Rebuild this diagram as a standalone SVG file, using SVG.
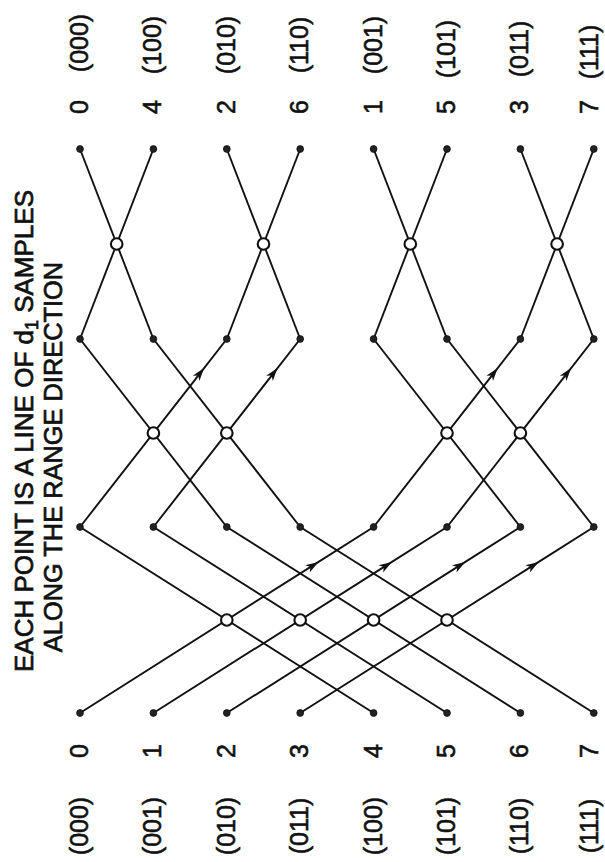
<svg xmlns="http://www.w3.org/2000/svg" width="605" height="862" viewBox="0 0 605 862">
<style>
.bg{fill:#fff}
.ln{stroke:#111;stroke-width:1.9;fill:none}
.dot{fill:#222;stroke:#111;stroke-width:0.8}
.bf{fill:#fff;stroke:#111;stroke-width:2.1}
.lbl{font-family:"Liberation Sans",Arial,sans-serif;font-size:25px;fill:#111;stroke:#111;stroke-width:0.6;text-anchor:middle}
.ttl{font-family:"Liberation Sans",Arial,sans-serif;fill:#111;stroke:#111;stroke-width:0.7;text-anchor:middle}
</style>
<defs>
<marker id="ar" viewBox="-9 -6 16 12" markerWidth="16" markerHeight="12" refX="0" refY="0" orient="auto" markerUnits="userSpaceOnUse">
<path d="M6,0 L-7,-4.2 L-3.5,0 L-7,4.2 Z" fill="#111"/>
</marker>
</defs>
<rect class="bg" x="0" y="0" width="605" height="862"/>

<g id="title">
<text class="ttl" font-size="26" transform="translate(33,431) rotate(-90)">EACH POINT IS A LINE OF d<tspan font-size="18" dy="5">1</tspan><tspan dy="-5">  SAMPLES</tspan></text>
<text class="ttl" font-size="25.4" transform="translate(62,457) rotate(-90)">ALONG THE RANGE DIRECTION</text>
</g>

<g id="connectors">
<!-- stage 1 -->
<path class="ln" marker-mid="url(#ar)" d="M80,713 L313.4,565.1 L373.6,527"/>
<path class="ln" d="M373.6,713 L80,527"/>
<path class="ln" marker-mid="url(#ar)" d="M153.4,713 L386.8,565.1 L447,527"/>
<path class="ln" d="M447,713 L153.4,527"/>
<path class="ln" marker-mid="url(#ar)" d="M226.8,713 L460.2,565.1 L520.4,527"/>
<path class="ln" d="M520.4,713 L226.8,527"/>
<path class="ln" marker-mid="url(#ar)" d="M300.2,713 L533.6,565.1 L593.8,527"/>
<path class="ln" d="M593.8,713 L300.2,527"/>
<!-- stage 2 -->
<path class="ln" marker-mid="url(#ar)" d="M80,527 L200.4,372.8 L226.8,339"/>
<path class="ln" d="M226.8,527 L80,339"/>
<path class="ln" marker-mid="url(#ar)" d="M153.4,527 L273.8,372.8 L300.2,339"/>
<path class="ln" d="M300.2,527 L153.4,339"/>
<path class="ln" marker-mid="url(#ar)" d="M373.6,527 L494,372.8 L520.4,339"/>
<path class="ln" d="M520.4,527 L373.6,339"/>
<path class="ln" marker-mid="url(#ar)" d="M447,527 L567.4,372.8 L593.8,339"/>
<path class="ln" d="M593.8,527 L447,339"/>
<!-- stage 3 -->
<path class="ln" d="M80,339 L153.4,149"/>
<path class="ln" d="M153.4,339 L80,149"/>
<path class="ln" d="M226.8,339 L300.2,149"/>
<path class="ln" d="M300.2,339 L226.8,149"/>
<path class="ln" d="M373.6,339 L447,149"/>
<path class="ln" d="M447,339 L373.6,149"/>
<path class="ln" d="M520.4,339 L593.8,149"/>
<path class="ln" d="M593.8,339 L520.4,149"/>
</g>

<g id="inputs">
<g id="in0"><circle class="dot" cx="80" cy="713" r="3.4"/><text class="lbl" transform="translate(88,751) rotate(-90)">0</text><text class="lbl" transform="translate(88,826) rotate(-90)">(000)</text></g>
<g id="in1"><circle class="dot" cx="153.4" cy="713" r="3.4"/><text class="lbl" transform="translate(161.4,751) rotate(-90)">1</text><text class="lbl" transform="translate(161.4,826) rotate(-90)">(001)</text></g>
<g id="in2"><circle class="dot" cx="226.8" cy="713" r="3.4"/><text class="lbl" transform="translate(234.8,751) rotate(-90)">2</text><text class="lbl" transform="translate(234.8,826) rotate(-90)">(010)</text></g>
<g id="in3"><circle class="dot" cx="300.2" cy="713" r="3.4"/><text class="lbl" transform="translate(308.2,751) rotate(-90)">3</text><text class="lbl" transform="translate(308.2,826) rotate(-90)">(011)</text></g>
<g id="in4"><circle class="dot" cx="373.6" cy="713" r="3.4"/><text class="lbl" transform="translate(381.6,751) rotate(-90)">4</text><text class="lbl" transform="translate(381.6,826) rotate(-90)">(100)</text></g>
<g id="in5"><circle class="dot" cx="447" cy="713" r="3.4"/><text class="lbl" transform="translate(455,751) rotate(-90)">5</text><text class="lbl" transform="translate(455,826) rotate(-90)">(101)</text></g>
<g id="in6"><circle class="dot" cx="520.4" cy="713" r="3.4"/><text class="lbl" transform="translate(528.4,751) rotate(-90)">6</text><text class="lbl" transform="translate(528.4,826) rotate(-90)">(110)</text></g>
<g id="in7"><circle class="dot" cx="593.8" cy="713" r="3.4"/><text class="lbl" transform="translate(597.5,751) rotate(-90)">7</text><text class="lbl" transform="translate(597.5,826) rotate(-90)">(111)</text></g>
</g>

<g id="stage1">
<g id="s1n0"><circle class="dot" cx="80" cy="527" r="3.4"/></g>
<g id="s1n1"><circle class="dot" cx="153.4" cy="527" r="3.4"/></g>
<g id="s1n2"><circle class="dot" cx="226.8" cy="527" r="3.4"/></g>
<g id="s1n3"><circle class="dot" cx="300.2" cy="527" r="3.4"/></g>
<g id="s1n4"><circle class="dot" cx="373.6" cy="527" r="3.4"/></g>
<g id="s1n5"><circle class="dot" cx="447" cy="527" r="3.4"/></g>
<g id="s1n6"><circle class="dot" cx="520.4" cy="527" r="3.4"/></g>
<g id="s1n7"><circle class="dot" cx="593.8" cy="527" r="3.4"/></g>
</g>

<g id="stage2">
<g id="s2n0"><circle class="dot" cx="80" cy="339" r="3.4"/></g>
<g id="s2n1"><circle class="dot" cx="153.4" cy="339" r="3.4"/></g>
<g id="s2n2"><circle class="dot" cx="226.8" cy="339" r="3.4"/></g>
<g id="s2n3"><circle class="dot" cx="300.2" cy="339" r="3.4"/></g>
<g id="s2n4"><circle class="dot" cx="373.6" cy="339" r="3.4"/></g>
<g id="s2n5"><circle class="dot" cx="447" cy="339" r="3.4"/></g>
<g id="s2n6"><circle class="dot" cx="520.4" cy="339" r="3.4"/></g>
<g id="s2n7"><circle class="dot" cx="593.8" cy="339" r="3.4"/></g>
</g>

<g id="butterflies">
<g id="b1a"><circle class="bf" cx="226.8" cy="620" r="5.8"/></g>
<g id="b1b"><circle class="bf" cx="300.2" cy="620" r="5.8"/></g>
<g id="b1c"><circle class="bf" cx="373.6" cy="620" r="5.8"/></g>
<g id="b1d"><circle class="bf" cx="447" cy="620" r="5.8"/></g>
<g id="b2a"><circle class="bf" cx="153.4" cy="433" r="5.8"/></g>
<g id="b2b"><circle class="bf" cx="226.8" cy="433" r="5.8"/></g>
<g id="b2c"><circle class="bf" cx="447" cy="433" r="5.8"/></g>
<g id="b2d"><circle class="bf" cx="520.4" cy="433" r="5.8"/></g>
<g id="b3a"><circle class="bf" cx="116.7" cy="244" r="5.8"/></g>
<g id="b3b"><circle class="bf" cx="263.5" cy="244" r="5.8"/></g>
<g id="b3c"><circle class="bf" cx="410.3" cy="244" r="5.8"/></g>
<g id="b3d"><circle class="bf" cx="557.1" cy="244" r="5.8"/></g>
</g>

<g id="outputs">
<g id="out0"><circle class="dot" cx="80" cy="149" r="3.4"/><text class="lbl" transform="translate(88,107) rotate(-90)">0</text><text class="lbl" transform="translate(88,43) rotate(-90)">(000)</text></g>
<g id="out1"><circle class="dot" cx="153.4" cy="149" r="3.4"/><text class="lbl" transform="translate(161.4,107) rotate(-90)">4</text><text class="lbl" transform="translate(161.4,45) rotate(-90)">(100)</text></g>
<g id="out2"><circle class="dot" cx="226.8" cy="149" r="3.4"/><text class="lbl" transform="translate(234.8,107) rotate(-90)">2</text><text class="lbl" transform="translate(234.8,45) rotate(-90)">(010)</text></g>
<g id="out3"><circle class="dot" cx="300.2" cy="149" r="3.4"/><text class="lbl" transform="translate(308.2,107) rotate(-90)">6</text><text class="lbl" transform="translate(308.2,45) rotate(-90)">(110)</text></g>
<g id="out4"><circle class="dot" cx="373.6" cy="149" r="3.4"/><text class="lbl" transform="translate(381.6,107) rotate(-90)">1</text><text class="lbl" transform="translate(381.6,45) rotate(-90)">(001)</text></g>
<g id="out5"><circle class="dot" cx="447" cy="149" r="3.4"/><text class="lbl" transform="translate(455,107) rotate(-90)">5</text><text class="lbl" transform="translate(455,49) rotate(-90)">(101)</text></g>
<g id="out6"><circle class="dot" cx="520.4" cy="149" r="3.4"/><text class="lbl" transform="translate(528.4,107) rotate(-90)">3</text><text class="lbl" transform="translate(528.4,49) rotate(-90)">(011)</text></g>
<g id="out7"><circle class="dot" cx="593.8" cy="149" r="3.4"/><text class="lbl" transform="translate(597.5,107) rotate(-90)">7</text><text class="lbl" transform="translate(597.5,52) rotate(-90)">(111)</text></g>
</g>
</svg>
